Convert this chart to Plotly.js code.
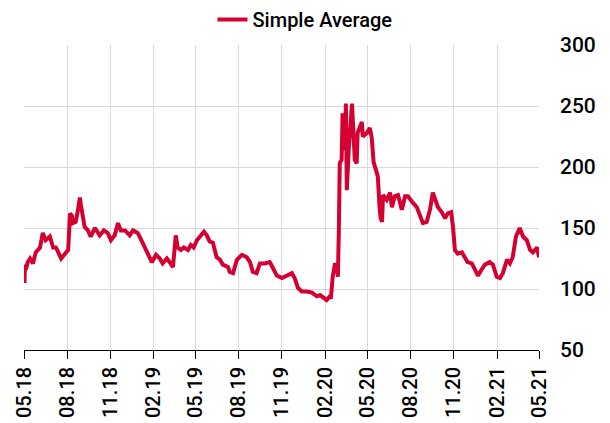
<!DOCTYPE html>
<html>
<head>
<meta charset="utf-8">
<script src="https://cdn.plot.ly/plotly-3.0.1.min.js"></script>
<style>
html,body{margin:0;padding:0;background:#fff;}
#chart{width:610px;height:423px;}
</style>
</head>
<body>
<div id="chart"></div>
<script>
// Series name
const seriesName = "Simple Average";

// Dates of observations (10 per line)
const dates = [
"2018-05-01","2018-05-02","2018-05-03","2018-05-05","2018-05-09","2018-05-14","2018-05-20","2018-05-26","2018-06-04","2018-06-10",
"2018-06-16","2018-06-25","2018-07-02","2018-07-08","2018-07-19","2018-07-27","2018-08-03","2018-08-07","2018-08-11","2018-08-13",
"2018-08-19","2018-08-24","2018-08-28","2018-08-30","2018-09-03","2018-09-07","2018-09-14","2018-09-20","2018-09-29","2018-10-09",
"2018-10-18","2018-10-26","2018-11-02","2018-11-10","2018-11-17","2018-11-23","2018-12-02","2018-12-12","2018-12-19","2018-12-29",
"2019-01-07","2019-01-13","2019-01-19","2019-01-28","2019-02-06","2019-02-14","2019-02-20","2019-03-01","2019-03-07","2019-03-14",
"2019-03-18","2019-03-20","2019-03-24","2019-03-31","2019-04-06","2019-04-15","2019-04-21","2019-04-27","2019-05-04","2019-05-10",
"2019-05-19","2019-05-25","2019-05-31","2019-06-07","2019-06-15","2019-06-22","2019-06-28","2019-07-09","2019-07-13","2019-07-20",
"2019-07-28","2019-08-08","2019-08-18","2019-08-25","2019-08-31","2019-09-08","2019-09-15","2019-09-25","2019-10-06","2019-10-13",
"2019-10-21","2019-11-01","2019-11-11","2019-11-22","2019-11-28","2019-12-05","2019-12-13","2019-12-24","2020-01-04","2020-01-14",
"2020-01-21","2020-01-27","2020-02-04","2020-02-11","2020-02-13","2020-02-17","2020-02-22","2020-02-26","2020-02-28","2020-03-01",
"2020-03-03","2020-03-07","2020-03-09","2020-03-14","2020-03-16","2020-03-18","2020-03-22","2020-03-29","2020-03-31","2020-04-04",
"2020-04-08","2020-04-10","2020-04-19","2020-04-21","2020-04-30","2020-05-06","2020-05-10","2020-05-14","2020-05-21","2020-05-23",
"2020-05-27","2020-05-29","2020-06-01","2020-06-03","2020-06-11","2020-06-18","2020-06-22","2020-06-28","2020-07-05","2020-07-13",
"2020-07-20","2020-07-26","2020-08-05","2020-08-14","2020-08-20","2020-08-27","2020-09-04","2020-09-11","2020-09-17","2020-09-23",
"2020-09-28","2020-10-06","2020-10-13","2020-10-19","2020-10-26","2020-10-30","2020-11-03","2020-11-09","2020-11-18","2020-11-24",
"2020-11-30","2020-12-09","2020-12-15","2020-12-22","2020-12-30","2021-01-06","2021-01-16","2021-01-23","2021-01-31","2021-02-07",
"2021-02-13","2021-02-22","2021-02-28","2021-03-06","2021-03-13","2021-03-21","2021-03-28","2021-04-05","2021-04-12","2021-04-18",
"2021-04-27","2021-05-01"
];

// Index values (10 per line, matching dates)
const values = [
118,105,120,116,122,125,121,130,134,146,
140,143,134,134,125,129,132,162,160,154,
155,165,175,169,160,151,148,143,150,144,
148,146,140,144,154,148,148,144,148,146,
139,134,129,122,128,125,121,125,122,118,
135,144,134,132,134,132,136,134,140,143,
147,144,139,138,126,124,120,118,114,113,
124,128,126,122,114,113,121,121,122,117,
111,109,111,113,109,101,98,98,97,94,
95,93,91,94,92,110,121,118,110,148,
203,206,244,214,252,181,214,252,230,206,
203,228,237,225,228,232,224,204,195,192,
165,158,155,177,173,179,167,176,177,165,
176,176,171,167,161,154,155,165,179,173,
167,163,158,162,163,151,132,129,130,126,
122,121,116,111,116,120,122,120,110,109,
113,124,121,126,143,150,143,140,132,130,
134,126
];

// X-axis tick positions and labels
const tickDates = ["2018-05-01","2018-08-01","2018-11-01","2019-02-01","2019-05-01","2019-08-01","2019-11-01","2020-02-01","2020-05-01","2020-08-01","2020-11-01","2021-02-01","2021-05-01"];
const tickLabels = ["05.18","08.18","11.18","02.19","05.19","08.19","11.19","02.20","05.20","08.20","11.20","02.21","05.21"];

// Y-axis ticks
const yTicks = [50,100,150,200,250,300];

const FONT = 'Roboto, "Liberation Sans", sans-serif';

const trace = {
  x: dates,
  y: values,
  type: 'scatter',
  mode: 'lines',
  name: seriesName,
  line: {color: '#d50032', width: 4}
};

const layout = {
  width: 610,
  height: 423,
  margin: {l: 24, r: 71, t: 45, b: 73},
  paper_bgcolor: '#ffffff',
  plot_bgcolor: '#ffffff',
  font: {family: FONT, size: 20, color: '#000000'},
  showlegend: true,
  legend: {
    orientation: 'h',
    xref: 'container', yref: 'container',
    x: 0.5, xanchor: 'center',
    y: 1, yanchor: 'top',
    font: {family: FONT, size: 20, color: '#000000', weight: 500},
    bgcolor: 'rgba(0,0,0,0)'
  },
  xaxis: {
    type: 'date',
    range: ['2018-05-01', '2021-05-01'],
    tickmode: 'array',
    tickvals: tickDates,
    ticktext: tickLabels,
    tickangle: -90,
    ticks: 'outside',
    ticklen: 8,
    tickcolor: '#000000',
    tickwidth: 1,
    showline: true,
    linecolor: '#000000',
    linewidth: 1,
    showgrid: true,
    gridcolor: '#d9d9d9',
    gridwidth: 1,
    zeroline: false,
    tickfont: {family: FONT, size: 20, color: '#000000', weight: 500}
  },
  yaxis: {
    side: 'right',
    range: [50, 300],
    tickmode: 'array',
    tickvals: yTicks,
    ticktext: yTicks.map(String),
    ticks: '',
    showline: false,
    showgrid: true,
    gridcolor: '#d9d9d9',
    gridwidth: 1,
    zeroline: false,
    ticklabelstandoff: 20,
    tickfont: {family: FONT, size: 21, color: '#000000', weight: 500}
  }
};

Plotly.newPlot('chart', [trace], layout, {displayModeBar: false, staticPlot: true});
</script>
</body>
</html>
